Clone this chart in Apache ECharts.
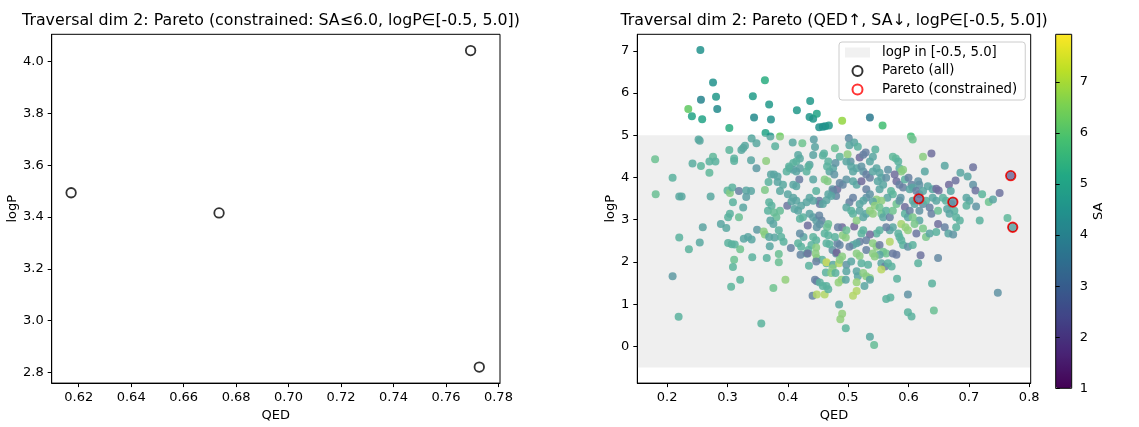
<!DOCTYPE html>
<html>
<head>
<meta charset="utf-8">
<script src="https://cdn.jsdelivr.net/npm/echarts@6/dist/echarts.min.js"></script>
<style>html,body{margin:0;padding:0;background:#fff}#chart{width:1139px;height:427px}</style>
</head>
<body>
<div id="chart"></div>
<script>
// pareto front (QED, logP, SA)
var paretoQed = [0.6171, 0.6735, 0.7694, 0.7727];
var paretoLogP = [3.494, 3.416, 4.043, 2.821];
var paretoSA = [2.4, 3.5, 2.2, 4.3];

// traversal molecules [QED, logP, SA], grouped by region
var highLogP = [[0.255,7.02,4.5],[0.276,6.25,4.5],[0.256,5.84,4.1],[0.281,5.91,4.7],[0.283,5.62,4.3],[0.235,5.62,6.2],[0.241,5.45,5.0],[0.258,5.38,5.0],[0.303,5.17,5.3],[0.342,5.92,4.8],[0.362,6.30,5.3],[0.369,5.73,4.7],[0.344,5.42,4.3],[0.372,5.37,4.5],[0.363,5.05,5.0],[0.415,5.59,4.7],[0.437,5.81,4.7],[0.436,5.43,4.6],[0.442,5.39,4.6],[0.448,5.51,5.0],[0.452,5.19,4.5],[0.458,5.20,4.5],[0.462,5.21,4.5],[0.468,5.23,4.6],[0.490,5.34,6.8],[0.536,5.42,3.8],[0.557,5.23,5.8]];
var qed2 = [[0.180,4.43,5.7],[0.181,3.60,5.6],[0.209,3.99,5.0],[0.220,3.55,4.6],[0.224,3.55,4.6],[0.220,2.58,5.0],[0.236,2.30,5.1],[0.209,1.66,4.0],[0.219,0.70,5.0],[0.252,4.90,4.6],[0.254,4.87,4.6],[0.242,4.33,4.8],[0.256,4.27,5.2],[0.270,4.11,5.3],[0.276,4.49,5.3],[0.280,4.38,5.0],[0.270,4.38,5.0],[0.272,3.55,4.6],[0.259,2.82,4.4],[0.254,2.46,4.6],[0.289,2.90,4.5],[0.298,2.80,4.6],[0.300,3.69,5.2],[0.304,3.63,6.2],[0.303,4.65,5.2]];
var qed3 = [[0.311,4.39,5.0],[0.311,4.45,5.0],[0.308,3.76,5.0],[0.319,3.68,3.0],[0.309,3.41,5.0],[0.326,3.29,4.5],[0.301,3.06,5.0],[0.304,3.14,5.0],[0.319,3.06,5.6],[0.301,2.45,5.0],[0.307,2.42,5.0],[0.312,2.41,5.0],[0.321,2.30,5.8],[0.311,2.05,5.7],[0.309,1.88,5.2],[0.321,1.58,5.2],[0.306,1.41,5.2],[0.329,4.75,4.6],[0.326,4.70,4.6],[0.323,4.65,4.6],[0.340,4.92,4.6],[0.348,4.81,4.6],[0.339,4.41,4.5],[0.348,4.22,4.0],[0.331,3.69,4.5],[0.339,3.68,4.5],[0.331,3.54,4.2],[0.327,2.55,4.5],[0.334,2.59,4.5],[0.340,2.53,4.5],[0.349,2.76,4.0],[0.360,2.72,6.3],[0.362,2.65,6.3],[0.341,2.11,5.0],[0.356,0.54,5.1],[0.376,1.38,5.8],[0.364,4.39,6.4],[0.362,3.70,6.1],[0.368,3.89,5.0],[0.371,4.97,4.6],[0.379,4.74,5.0],[0.387,4.97,6.3],[0.372,4.07,4.5],[0.377,4.07,4.5],[0.369,3.41,5.0],[0.373,3.33,5.0],[0.367,3.21,5.0],[0.377,3.17,5.5],[0.381,3.06,5.5],[0.387,3.21,5.5],[0.371,2.98,4.5],[0.376,2.90,4.5],[0.369,2.59,4.5],[0.378,2.58,4.5],[0.370,2.37,4.5],[0.365,2.09,5.0],[0.385,2.75,5.0],[0.389,2.59,5.0],[0.393,2.48,5.0],[0.385,2.19,5.6],[0.385,1.99,5.6],[0.383,4.02,4.5],[0.383,3.89,4.5],[0.387,3.68,4.6],[0.392,3.83,4.6],[0.396,1.58,6.5],[0.400,3.60,4.5],[0.399,3.33,2.6],[0.405,2.33,3.0]];
var qed4 = [[0.408,4.83,4.6],[0.424,4.81,5.8],[0.417,4.53,4.6],[0.420,4.45,4.6],[0.414,4.38,5.0],[0.409,4.34,5.0],[0.403,4.22,4.5],[0.409,4.18,4.3],[0.414,4.14,4.5],[0.420,4.22,4.3],[0.436,4.30,4.4],[0.442,4.53,4.4],[0.445,4.72,4.4],[0.443,4.90,4.2],[0.434,4.26,5.0],[0.431,4.14,5.0],[0.398,4.14,5.0],[0.402,4.26,5.0],[0.419,3.95,2.8],[0.409,3.83,4.5],[0.414,3.79,4.5],[0.442,3.95,4.5],[0.447,3.68,5.0],[0.461,3.95,6.2],[0.466,3.91,6.2],[0.469,4.14,4.5],[0.475,4.22,4.5],[0.465,4.26,5.0],[0.460,4.57,5.0],[0.458,4.52,5.0],[0.467,4.38,5.0],[0.478,4.69,5.7],[0.486,4.49,5.0],[0.479,4.34,3.8],[0.477,4.07,3.8],[0.474,3.72,3.8],[0.482,3.72,2.3],[0.486,3.87,3.2],[0.491,3.83,3.2],[0.475,3.68,3.2],[0.480,3.56,3.2],[0.467,3.60,4.5],[0.472,3.56,4.5],[0.452,3.45,2.8],[0.453,3.37,2.8],[0.458,3.37,4.5],[0.464,3.46,4.5],[0.436,3.52,4.5],[0.442,3.45,4.5],[0.431,3.41,4.5],[0.422,3.33,4.5],[0.414,3.45,4.5],[0.409,3.52,4.4],[0.406,3.43,4.4],[0.411,3.25,4.5],[0.417,3.21,4.5],[0.425,3.06,5.0],[0.420,3.02,5.0],[0.436,3.14,4.4],[0.442,3.06,4.2],[0.447,2.98,4.2],[0.452,3.10,3.2],[0.456,2.98,3.2],[0.433,2.86,2.3],[0.448,2.82,3.8],[0.453,2.89,3.8],[0.465,2.82,5.6],[0.467,2.90,5.6],[0.461,2.67,5.1],[0.467,2.63,5.1],[0.447,2.51,5.1],[0.442,2.59,5.1],[0.439,2.40,5.1],[0.426,2.59,4.5],[0.420,2.67,3.5],[0.417,2.44,5.1],[0.422,2.36,5.1],[0.431,2.20,5.2],[0.434,2.28,5.2],[0.446,2.20,6.3],[0.448,2.09,6.3],[0.457,2.05,5.0],[0.464,1.97,5.0],[0.474,2.28,3.7],[0.480,2.20,3.7],[0.481,2.22,2.0],[0.482,2.44,3.2],[0.486,2.40,3.2],[0.491,2.63,6.3],[0.496,2.58,6.3],[0.490,2.82,2.2],[0.483,2.82,3.0],[0.497,2.75,5.6],[0.478,2.59,5.0],[0.464,2.44,5.0],[0.469,2.42,5.0],[0.447,2.34,6.3],[0.421,2.17,3.2],[0.433,2.20,2.4],[0.435,1.91,5.0],[0.447,2.01,3.0],[0.464,1.99,7.4],[0.463,1.75,5.0],[0.475,1.93,4.6],[0.472,1.74,6.3],[0.474,1.85,6.3],[0.485,1.97,7.0],[0.486,2.05,6.3],[0.490,2.13,6.3],[0.497,1.93,3.8],[0.445,1.58,3.0],[0.448,1.54,3.0],[0.453,1.51,5.0],[0.458,1.43,5.0],[0.464,1.43,5.0],[0.441,1.20,3.2],[0.448,1.23,7.0],[0.461,1.23,7.0],[0.467,1.35,5.0],[0.484,1.51,6.5],[0.489,1.58,6.5],[0.479,1.74,5.0],[0.485,0.99,4.6],[0.490,0.77,6.5],[0.487,0.64,6.5],[0.496,0.43,5.2],[0.497,1.78,4.5],[0.496,1.58,4.5]];
var qed5 = [[0.501,4.93,3.5],[0.502,4.76,4.5],[0.510,4.83,4.5],[0.516,4.73,5.0],[0.519,4.47,2.2],[0.525,4.54,3.0],[0.529,4.59,3.0],[0.541,4.49,4.5],[0.545,4.66,5.0],[0.504,4.38,3.8],[0.497,4.38,4.5],[0.499,4.55,6.4],[0.505,4.26,4.5],[0.514,4.22,4.5],[0.508,4.14,4.5],[0.522,4.26,3.8],[0.525,4.14,3.8],[0.536,4.38,4.5],[0.530,4.07,3.0],[0.536,3.99,3.0],[0.497,3.95,3.8],[0.508,3.91,4.5],[0.514,3.83,4.5],[0.522,3.91,2.2],[0.530,3.72,3.0],[0.541,4.14,4.5],[0.547,4.22,4.5],[0.552,4.11,4.5],[0.555,3.99,4.5],[0.549,3.91,4.5],[0.558,3.83,4.5],[0.552,3.72,4.5],[0.563,3.99,3.7],[0.566,4.18,3.7],[0.574,4.49,5.3],[0.579,4.45,5.3],[0.583,4.38,5.0],[0.585,4.22,5.0],[0.588,4.14,6.3],[0.591,4.18,6.3],[0.577,4.07,2.3],[0.580,3.91,2.3],[0.585,3.83,3.0],[0.591,3.76,3.0],[0.594,3.95,5.0],[0.600,3.99,3.0],[0.605,3.83,3.0],[0.574,3.60,5.2],[0.571,3.68,5.2],[0.565,3.52,4.5],[0.555,3.45,6.4],[0.547,3.48,6.4],[0.541,3.43,4.5],[0.536,3.60,3.7],[0.530,3.52,3.7],[0.525,3.45,4.5],[0.519,3.37,4.5],[0.508,3.52,3.0],[0.502,3.41,3.0],[0.497,3.29,4.5],[0.505,3.21,5.0],[0.508,3.14,5.0],[0.510,2.84,2.0],[0.514,2.98,6.3],[0.519,3.21,4.5],[0.525,3.06,4.5],[0.530,3.14,4.5],[0.536,3.21,6.4],[0.541,3.14,6.4],[0.544,3.33,6.4],[0.552,3.29,5.8],[0.555,3.14,5.8],[0.558,3.06,4.5],[0.563,3.21,5.0],[0.569,3.06,3.0],[0.574,3.21,5.8],[0.580,3.37,5.8],[0.587,3.52,3.8],[0.585,3.45,3.8],[0.594,3.30,2.3],[0.594,3.14,5.0],[0.599,3.06,4.5],[0.602,3.21,3.0],[0.588,2.90,6.8],[0.595,2.82,6.5],[0.599,2.75,6.5],[0.583,2.67,5.0],[0.585,2.59,5.0],[0.574,2.82,4.5],[0.569,2.75,4.5],[0.563,2.82,3.0],[0.552,2.75,5.0],[0.547,2.67,5.0],[0.536,2.65,2.2],[0.530,2.51,3.0],[0.525,2.75,5.0],[0.522,2.67,5.0],[0.519,2.48,3.0],[0.514,2.44,4.5],[0.508,2.40,4.5],[0.502,2.36,3.0],[0.530,2.28,3.0],[0.541,2.44,6.3],[0.547,2.36,6.3],[0.552,2.40,2.8],[0.558,2.24,5.8],[0.563,2.20,5.8],[0.574,2.20,2.8],[0.580,2.17,2.8],[0.569,2.48,7.0],[0.588,2.51,5.0],[0.591,2.40,5.0],[0.599,2.36,3.7],[0.552,2.17,4.5],[0.541,2.20,6.3],[0.544,2.13,6.3],[0.514,2.20,6.3],[0.519,2.14,6.3],[0.505,2.01,4.5],[0.522,1.97,5.0],[0.533,1.93,5.0],[0.555,1.97,4.5],[0.561,1.89,3.0],[0.566,1.97,5.0],[0.572,1.89,5.0],[0.514,1.78,4.5],[0.516,1.66,4.5],[0.525,1.74,6.3],[0.530,1.66,6.3],[0.536,1.62,6.3],[0.555,1.82,7.1],[0.527,1.43,4.5],[0.514,1.52,6.6],[0.514,1.31,7.0],[0.508,1.20,7.0],[0.536,1.58,4.5],[0.581,1.60,5.0],[0.570,1.16,5.0],[0.563,1.12,5.0],[0.599,1.23,3.7],[0.599,0.81,5.0],[0.605,0.71,5.0],[0.536,0.23,4.6],[0.543,0.03,5.5]];
var qed6 = [[0.607,2.40,5.0],[0.604,4.97,5.8],[0.607,4.90,5.8],[0.624,4.49,6.3],[0.638,4.57,2.3],[0.627,4.14,4.5],[0.616,3.91,3.7],[0.618,3.83,3.7],[0.607,3.76,4.5],[0.602,3.72,4.5],[0.613,3.68,3.0],[0.618,3.60,3.0],[0.624,3.68,4.5],[0.632,3.79,4.5],[0.640,3.72,4.5],[0.646,3.73,2.3],[0.650,3.69,2.3],[0.660,4.28,4.5],[0.667,3.83,2.2],[0.678,3.93,2.4],[0.670,3.68,4.5],[0.686,4.11,4.5],[0.698,4.02,4.5],[0.707,4.24,2.5],[0.707,3.83,3.7],[0.711,3.69,2.5],[0.722,3.60,5.2],[0.733,3.42,5.8],[0.740,3.48,4.5],[0.751,3.63,2.5],[0.764,3.04,5.3],[0.748,1.27,3.7],[0.607,3.45,4.5],[0.610,3.37,4.5],[0.618,3.21,3.7],[0.624,3.37,3.7],[0.629,3.45,5.0],[0.635,3.29,3.0],[0.638,3.14,3.0],[0.640,3.52,4.5],[0.646,3.45,4.5],[0.649,3.21,5.6],[0.657,3.52,5.0],[0.662,3.45,5.0],[0.671,3.37,4.5],[0.676,3.21,5.0],[0.664,3.25,4.5],[0.668,3.14,4.5],[0.679,3.06,5.0],[0.685,2.98,5.0],[0.696,3.52,4.5],[0.701,3.45,4.5],[0.712,3.31,3.8],[0.696,3.33,5.0],[0.718,2.98,5.0],[0.618,2.98,4.5],[0.610,2.90,6.0],[0.607,3.06,6.0],[0.613,2.67,2.6],[0.624,2.79,6.0],[0.629,2.59,6.0],[0.635,2.67,4.5],[0.646,2.71,5.0],[0.649,2.90,2.3],[0.660,2.82,3.0],[0.666,2.67,4.5],[0.674,2.65,3.8],[0.679,2.82,5.0],[0.620,2.16,2.5],[0.616,1.97,5.0],[0.649,2.09,3.3],[0.639,1.49,5.0],[0.642,0.85,5.6]];

var logPBand = [-0.5, 5.0];
var leftXTicks = [0.62, 0.64, 0.66, 0.68, 0.70, 0.72, 0.74, 0.76, 0.78];
var leftYTicks = [2.8, 3.0, 3.2, 3.4, 3.6, 3.8, 4.0];
var rightXTicks = [0.2, 0.3, 0.4, 0.5, 0.6, 0.7, 0.8];
var rightYTicks = [0, 1, 2, 3, 4, 5, 6, 7];
var saTicks = [1, 2, 3, 4, 5, 6, 7];

var viridis = ['#440154','#482475','#414487','#355f8d','#2a788e','#21918c','#22a884','#44bf70','#7ad151','#bddf26','#fde725'];

var paretoPts = paretoQed.map(function (q, i) { return [q, paretoLogP[i], paretoSA[i]]; });
var molecules = [].concat(highLogP, qed2, qed3, qed4, qed5, qed6, paretoPts);

var font = 'DejaVu Sans';
var txt = { color: '#000', fontSize: 13, fontFamily: font };
var titleText = { fontSize: 15.8, fontWeight: 'normal', color: '#000', fontFamily: font };

function axis(gridIndex, min, max, ticks, digits, name, nameGap, extra) {
  var a = {
    gridIndex: gridIndex, type: 'value', min: min, max: max,
    axisLine: { show: true, onZero: false, lineStyle: { color: '#000', width: 1 } },
    axisTick: { show: true, inside: false, length: 4, customValues: ticks, lineStyle: { color: '#000' } },
    axisLabel: Object.assign({ customValues: ticks, margin: 8, formatter: function (v) { return v.toFixed(digits); } }, txt),
    splitLine: { show: false },
    name: name, nameLocation: 'middle', nameGap: nameGap, nameTextStyle: txt
  };
  return Object.assign(a, extra || {});
}

var myChart = echarts.init(document.getElementById('chart'));
var option = {
  animation: false,
  textStyle: { fontFamily: font },
  title: [
    { text: 'Traversal dim 2: Pareto (constrained: SA\u22646.0, logP\u2208[-0.5, 5.0])', left: 271, top: 13, textAlign: 'center', padding: 0, textStyle: titleText },
    { text: 'Traversal dim 2: Pareto (QED\u2191, SA\u2193, logP\u2208[-0.5, 5.0])', left: 834, top: 13, textAlign: 'center', padding: 0, textStyle: titleText }
  ],
  grid: [
    { left: 51.7, top: 34.3, width: 448.3, height: 354, show: true, borderColor: '#000', borderWidth: 1, backgroundColor: 'transparent', z: 6 },
    { left: 637.3, top: 34.3, width: 393.4, height: 354, show: true, borderColor: '#000', borderWidth: 1, backgroundColor: 'transparent', z: 6 },
    { left: 1055.7, top: 34.3, width: 16, height: 354, show: true, borderColor: '#000', borderWidth: 1, backgroundColor: 'transparent', z: 10 }
  ],
  xAxis: [
    axis(0, 0.6097, 0.7806, leftXTicks, 2, 'QED', 24),
    axis(1, 0.1505, 0.8025, rightXTicks, 1, 'QED', 24),
    { gridIndex: 2, type: 'value', show: false, min: 0, max: 1 }
  ],
  yAxis: [
    axis(0, 2.759, 4.106, leftYTicks, 1, 'logP', 30),
    axis(1, -0.87, 7.39, rightYTicks, 0, 'logP', 18),
    axis(2, 1, 7.93, saTicks, 0, 'SA', 18, { position: 'right', nameRotate: 90, z: 10, axisLine: { show: false } })
  ],
  visualMap: {
    type: 'continuous', min: 1, max: 7.93, dimension: 2, seriesIndex: 2,
    inRange: { color: viridis }, calculable: false, hoverLink: false,
    orient: 'vertical', left: 1055.7, top: 34.3, itemWidth: 16, itemHeight: 354, padding: 0, text: null
  },
  legend: {
    data: [
      { name: 'logP in [-0.5, 5.0]', icon: 'rect', itemStyle: { color: '#eeeeee', borderWidth: 0 } },
      { name: 'Pareto (all)', icon: 'circle' },
      { name: 'Pareto (constrained)', icon: 'circle' }
    ],
    orient: 'vertical', left: 839, top: 42, padding: [4, 8, 4, 6], z: 8,
    itemWidth: 25, itemHeight: 10, itemGap: 5.5, selectedMode: false,
    backgroundColor: 'rgba(255,255,255,0.85)', borderColor: '#cccccc', borderWidth: 1, borderRadius: 3,
    textStyle: { color: '#000', fontSize: 13.3, fontFamily: font, padding: [0, 0, 0, 7] }
  },
  series: [
    {
      type: 'scatter', xAxisIndex: 0, yAxisIndex: 0, symbolSize: 9.5,
      itemStyle: { color: 'rgba(0,0,0,0)', borderColor: '#000', borderWidth: 1.8 },
      data: paretoPts
    },
    {
      // band drawn over the points, like the translucent span in the original
      name: 'logP in [-0.5, 5.0]', type: 'scatter', xAxisIndex: 1, yAxisIndex: 1, data: [], z: 3,
      itemStyle: { color: '#eeeeee' },
      markArea: { silent: true, z: 3, itemStyle: { color: 'rgba(205,205,205,0.33)' }, data: [[{ yAxis: logPBand[0] }, { yAxis: logPBand[1] }]] }
    },
    {
      name: 'molecules', type: 'scatter', xAxisIndex: 1, yAxisIndex: 1, symbolSize: 8, z: 2,
      itemStyle: { opacity: 0.85 },
      data: molecules
    },
    {
      name: 'Pareto (all)', type: 'scatter', xAxisIndex: 1, yAxisIndex: 1, symbolSize: 9, z: 4,
      itemStyle: { color: 'rgba(0,0,0,0)', borderColor: '#000', borderWidth: 1 },
      data: paretoPts
    },
    {
      name: 'Pareto (constrained)', type: 'scatter', xAxisIndex: 1, yAxisIndex: 1, symbolSize: 9.5, z: 5,
      itemStyle: { color: 'rgba(0,0,0,0)', borderColor: '#ff0000', borderWidth: 1.8 },
      data: paretoPts
    }
  ]
};
myChart.setOption(option);
</script>
</body>
</html>
